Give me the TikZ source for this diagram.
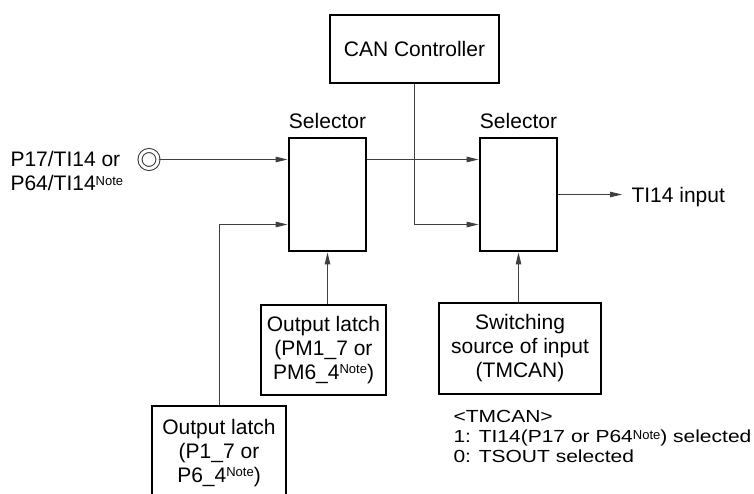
\documentclass[tikz,border=0pt]{standalone}
\usepackage{fontspec}
\setmainfont{Liberation Sans}
\newfontfamily\notefont[FakeStretch=1.2]{Liberation Sans}
\usetikzlibrary{arrows.meta}
\newcommand\notesup[1][5.7pt]{\raisebox{#1}{\rmfamily\fontsize{13}{13}\selectfont Note}}

\begin{document}
\begin{tikzpicture}[x=1pt,y=-1pt,line width=1pt,font=\fontsize{21}{24}\selectfont,
  blk/.style={draw,line width=2.8pt,align=center,inner sep=0pt},
  conn/.style={draw=black!75,line width=1pt,-{Triangle[length=12pt,width=5.5pt]}}]
\useasboundingbox (0,0) rectangle (754,494);
\clip (0,0) rectangle (754,494);
% boxes
\node[blk,minimum width=169pt,minimum height=68pt] (can) at (414.5,49) {CAN Controller};
\node[blk,minimum width=77pt,minimum height=113pt] (selA) at (327.5,194.5) {};
\node[blk,minimum width=77pt,minimum height=113pt] (selB) at (518.5,194.5) {};
\node[anchor=base] (selAlbl) at ([yshift=8pt]selA.north) {Selector};
\node[anchor=base] (selBlbl) at ([yshift=8pt]selB.north) {Selector};
\node[blk,minimum width=125pt,minimum height=90pt] (latchM) at (323.5,350) {Output latch\\(PM1\_7 or\\PM6\_4\notesup)};
\node[blk,minimum width=134pt,minimum height=94pt] (latchP) at (219,453) {Output latch\\(P1\_7 or\\P6\_4\notesup)};
\node[blk,minimum width=162pt,minimum height=91pt] (tmcan) at (520,348.5) {Switching\\source of input\\(TMCAN)};
% pin and texts
\node[circle,draw=black!80,double,double distance=3pt,minimum size=18pt,inner sep=0pt] (pin) at (149,159.5) {};
\node[anchor=north west,inner sep=0pt,align=left] (pinlbl) at (10,151) {P17/TI14 or\\P64/TI14\notesup};
\node[anchor=base west,inner sep=0pt] (tiout) at (631,202.5) {TI14 input};
\node[anchor=north west,inner sep=0pt,align=left,font=\notefont\fontsize{17.5}{20}\selectfont] (legend) at (453,410)
  {<TMCAN>\\1: TI14(P17 or P64\notesup[3.5pt]) selected\\0: TSOUT selected};
% connectors
\draw[conn] (pin.east) -- (pin.east -| selA.west);
\draw[conn] (selA.east |- pin.east) -- (selB.west |- pin.east);
\draw[conn] (can.south) |- ([yshift=-30pt]selB.west);
\draw[conn] (latchP.north) |- ([yshift=-30pt]selA.west);
\draw[conn] (selA.south |- latchM.north) -- (selA.south);
\draw[conn] (selB.south |- tmcan.north) -- (selB.south);
\draw[conn] (selB.east) -- ([xshift=-9pt]selB.east -| tiout.west);
\end{tikzpicture}
\end{document}
